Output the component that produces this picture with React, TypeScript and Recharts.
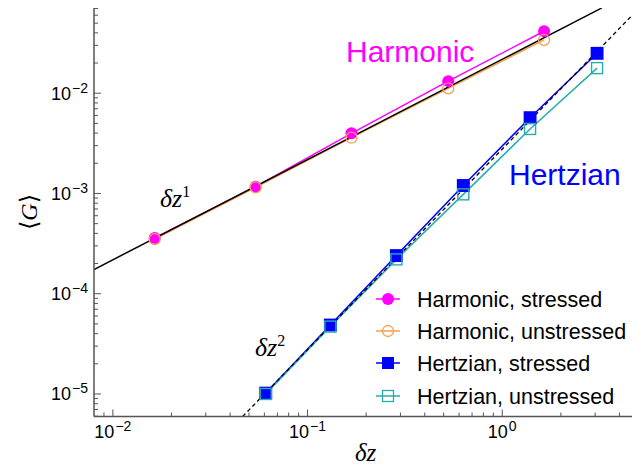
import React from 'react';
import { ComposedChart, Line, XAxis, YAxis } from 'recharts';

// ---- data ----
const HARM_X = [0.0164, 0.0541, 0.168, 0.528, 1.64];
const HARM_STRESSED = [3.6e-4, 1.17e-3, 3.98e-3, 0.0132, 0.0415];
const HARM_UNSTRESSED = [3.5e-4, 1.15e-3, 3.6e-3, 0.0112, 0.034];

const HERTZ_X = [0.061, 0.131, 0.286, 0.631, 1.39, 3.07];
const HERTZ_STRESSED = [1.02e-5, 4.87e-5, 2.4e-4, 1.2e-3, 5.7e-3, 0.025];
const HERTZ_UNSTRESSED = [1.0e-5, 4.7e-5, 2.2e-4, 9.8e-4, 4.4e-3, 0.0178];

// guide lines (endpoints)
const FIT1_X = [0.008, 3.25];
const FIT1_Y = [1.745e-4, 0.0709];
const FIT2_X = [0.0464, 5.2];
const FIT2_Y = [5.96e-6, 0.0749];

const X_DOMAIN = [0.008, 4.64];
const Y_DOMAIN = [5.96e-6, 0.0708];

const X_MAJOR = [0.01, 0.1, 1];
const X_MINOR = [0.009, 0.02, 0.03, 0.04, 0.05, 0.06, 0.07, 0.08, 0.09, 0.2, 0.3, 0.4, 0.5, 0.6, 0.7, 0.8, 0.9, 2, 3, 4];
const Y_MAJOR = [1e-5, 1e-4, 1e-3, 1e-2];
const Y_MINOR = [
  6e-6, 7e-6, 8e-6, 9e-6,
  2e-5, 3e-5, 4e-5, 5e-5, 6e-5, 7e-5, 8e-5, 9e-5,
  2e-4, 3e-4, 4e-4, 5e-4, 6e-4, 7e-4, 8e-4, 9e-4,
  2e-3, 3e-3, 4e-3, 5e-3, 6e-3, 7e-3, 8e-3, 9e-3,
  2e-2, 3e-2, 4e-2, 5e-2, 6e-2, 7e-2,
];

const LEGEND_LABELS = ['Harmonic, stressed', 'Harmonic, unstressed', 'Hertzian, stressed', 'Hertzian, unstressed'];
const COLORS = ['#ff00ff', '#f6a04d', '#0000ff', '#25adad'];

const zip = (xs: number[], ys: number[]) => xs.map((x, i) => ({ x, y: ys[i] }));

const harmS = zip(HARM_X, HARM_STRESSED);
const harmU = zip(HARM_X, HARM_UNSTRESSED);
const hertzS = zip(HERTZ_X, HERTZ_STRESSED);
const hertzU = zip(HERTZ_X, HERTZ_UNSTRESSED);
const fit1 = zip(FIT1_X, FIT1_Y);
const fit2 = zip(FIT2_X, FIT2_Y);

const X_TICKS = [...X_MAJOR, ...X_MINOR].sort((a, b) => a - b);
const Y_TICKS = [...Y_MAJOR, ...Y_MINOR].sort((a, b) => a - b);

const SANS = '"Liberation Sans", Arial, Helvetica, sans-serif';
const SERIF = '"Liberation Serif", "DejaVu Serif", "Times New Roman", serif';
const AXIS = '#555555';
const MAJOR_LEN = 7;
const MINOR_LEN = 4;

const expText = (v: number) => {
  const e = Math.round(Math.log10(v));
  return e < 0 ? '\u2212' + Math.abs(e) : String(e);
};

const BottomTick = (props: any) => {
  const { x, y, payload } = props;
  const major = X_MAJOR.includes(payload.value);
  return (
    <g>
      <line x1={x} y1={y} x2={x} y2={y - (major ? MAJOR_LEN : MINOR_LEN)} stroke={AXIS} strokeWidth={1} />
      {major && (
        <text x={x} y={y + 21} textAnchor="middle" fontFamily={SANS} fontSize={18} fill="#000">
          <tspan>10</tspan>
          <tspan fontSize={14} dx={1} dy={-7}>{expText(payload.value)}</tspan>
        </text>
      )}
    </g>
  );
};

const TopTick = (props: any) => {
  const { x, y, payload } = props;
  const major = X_MAJOR.includes(payload.value);
  return <line x1={x} y1={y} x2={x} y2={y + (major ? MAJOR_LEN : MINOR_LEN)} stroke={AXIS} strokeWidth={1} />;
};

const LeftTick = (props: any) => {
  const { x, y, payload } = props;
  const major = Y_MAJOR.includes(payload.value);
  return (
    <g>
      <line x1={x} y1={y} x2={x + (major ? MAJOR_LEN : MINOR_LEN)} y2={y} stroke={AXIS} strokeWidth={1} />
      {major && (
        <text x={x - 6} y={y + 6.5} textAnchor="end" fontFamily={SANS} fontSize={18} fill="#000">
          <tspan>10</tspan>
          <tspan fontSize={14} dx={1} dy={-7}>{expText(payload.value)}</tspan>
        </text>
      )}
    </g>
  );
};

const squareDot = (fill: string, stroke: string, size: number, tag: string) => (props: any) => {
  const { cx, cy, index } = props;
  return (
    <rect
      key={`${tag}-${index}`}
      x={cx - size / 2}
      y={cy - size / 2}
      width={size}
      height={size}
      fill={fill}
      stroke={stroke}
      strokeWidth={1.4}
    />
  );
};

const LegendSymbol = ({ i, cy }: { i: number; cy: number }) => {
  const c = COLORS[i];
  const cx = 388;
  let marker;
  if (i === 0) marker = <circle cx={cx} cy={cy} r={6} fill={c} />;
  else if (i === 1) marker = <circle cx={cx} cy={cy} r={5.5} fill="none" stroke={c} strokeWidth={1.3} />;
  else if (i === 2) marker = <rect x={cx - 6} y={cy - 6} width={12} height={12} fill={c} />;
  else marker = <rect x={cx - 5.5} y={cy - 5.5} width={11} height={11} fill="none" stroke={c} strokeWidth={1.3} />;
  return (
    <g>
      <line x1={376} y1={cy} x2={400} y2={cy} stroke={c} strokeWidth={1.5} />
      {marker}
    </g>
  );
};

const LEGEND_ROWS_Y = [299, 331, 363, 396];

export default function App() {
  return (
    <div style={{ position: 'absolute', left: 0, top: 0, width: 632, height: 468, overflow: 'hidden', background: '#fff' }}>
      <ComposedChart width={632} height={468} margin={{ top: 8, right: 0, bottom: 0, left: 0 }}>
        <XAxis
          xAxisId="b"
          dataKey="x"
          type="number"
          scale="log"
          domain={X_DOMAIN}
          allowDataOverflow
          ticks={X_TICKS}
          interval={0}
          height={51.5}
          tickSize={0}
          tickMargin={0}
          tickLine={false}
          axisLine={{ stroke: AXIS, strokeWidth: 1.5 }}
          tick={<BottomTick />}
        />
        <XAxis
          xAxisId="t"
          orientation="top"
          dataKey="x"
          type="number"
          scale="log"
          domain={X_DOMAIN}
          allowDataOverflow
          ticks={X_TICKS}
          interval={0}
          height={0}
          tickSize={0}
          tickMargin={0}
          tickLine={false}
          axisLine={{ stroke: AXIS, strokeWidth: 1.5 }}
          tick={<TopTick />}
        />
        <YAxis
          yAxisId="l"
          dataKey="y"
          type="number"
          scale="log"
          domain={Y_DOMAIN}
          allowDataOverflow
          ticks={Y_TICKS}
          interval={0}
          width={94}
          tickSize={0}
          tickMargin={0}
          tickLine={false}
          axisLine={{ stroke: AXIS, strokeWidth: 1.5 }}
          tick={<LeftTick />}
        />
        <Line
          xAxisId="b"
          yAxisId="l"
          data={harmS}
          dataKey="y"
          stroke={COLORS[0]}
          strokeWidth={1.5}
          dot={{ r: 6, fill: COLORS[0], stroke: COLORS[0], strokeWidth: 0 }}
          isAnimationActive={false}
        />
        <Line
          xAxisId="b"
          yAxisId="l"
          data={harmU}
          dataKey="y"
          stroke={COLORS[1]}
          strokeWidth={1.5}
          dot={{ r: 5.5, fill: 'none', stroke: COLORS[1], strokeWidth: 1.3 }}
          isAnimationActive={false}
        />
        <Line
          xAxisId="b"
          yAxisId="l"
          data={hertzS}
          dataKey="y"
          stroke={COLORS[2]}
          strokeWidth={1.5}
          dot={squareDot(COLORS[2], COLORS[2], 11.5, 'hs')}
          isAnimationActive={false}
        />
        <Line
          xAxisId="b"
          yAxisId="l"
          data={hertzU}
          dataKey="y"
          stroke={COLORS[3]}
          strokeWidth={1.5}
          dot={squareDot('none', COLORS[3], 11, 'hu')}
          isAnimationActive={false}
        />
        <Line
          xAxisId="b"
          yAxisId="l"
          data={fit1}
          dataKey="y"
          stroke="#000"
          strokeWidth={1.5}
          dot={false}
          isAnimationActive={false}
        />
        <Line
          xAxisId="b"
          yAxisId="l"
          data={fit2}
          dataKey="y"
          stroke="#000"
          strokeWidth={1.3}
          strokeDasharray="4 3"
          dot={false}
          isAnimationActive={false}
        />
      </ComposedChart>
      <svg
        width={632}
        height={468}
        style={{ position: 'absolute', left: 0, top: 0, pointerEvents: 'none' }}
      >
        <text x={346} y={62} fontFamily={SANS} fontSize={30} fill="#ff00ff">Harmonic</text>
        <text x={509} y={185} fontFamily={SANS} fontSize={30} fill="#0000ff">Hertzian</text>
        <text x={160} y={207} fontFamily={SERIF} fontSize={26} fill="#000">
          <tspan fontStyle="italic">δz</tspan>
          <tspan fontSize={16} dy={-10}>1</tspan>
        </text>
        <text x={255} y={356} fontFamily={SERIF} fontSize={26} fill="#000">
          <tspan fontStyle="italic">δz</tspan>
          <tspan fontSize={16} dy={-10}>2</tspan>
        </text>
        <text x={355} y={461} fontFamily={SERIF} fontSize={25} fontStyle="italic" fill="#000">δz</text>
        <text
          x={37}
          y={212}
          transform="rotate(-90, 37, 212)"
          textAnchor="middle"
          fontFamily={SERIF}
          fontSize={24}
          fill="#000"
        >
          ⟨<tspan fontStyle="italic">G</tspan>⟩
        </text>
        {LEGEND_LABELS.map((label, i) => (
          <g key={label}>
            <LegendSymbol i={i} cy={LEGEND_ROWS_Y[i]} />
            <text x={417} y={LEGEND_ROWS_Y[i] + 8} fontFamily={SANS} fontSize={21.5} fill="#000">
              {label}
            </text>
          </g>
        ))}
      </svg>
    </div>
  );
}
